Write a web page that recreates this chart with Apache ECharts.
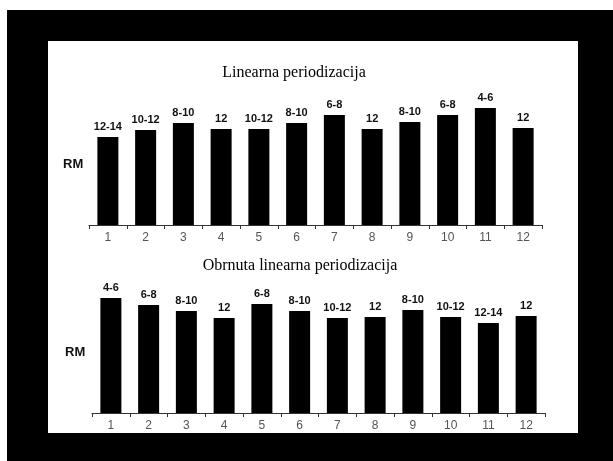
<!DOCTYPE html>
<html>
<head>
<meta charset="utf-8">
<script src="https://cdn.jsdelivr.net/npm/echarts@6/dist/echarts.min.js"></script>
<style>html,body{margin:0;padding:0;background:#fff;}#c{width:613px;height:461px;}</style>
</head>
<body>
<div id="c"></div>
<script>
var categories = ['1','2','3','4','5','6','7','8','9','10','11','12'];
var topTitle = 'Linearna periodizacija';
var bottomTitle = 'Obrnuta linearna periodizacija';
var topValues = [88, 95, 102, 96, 96, 102, 110, 96, 103, 110, 117, 97];
var topLabels = ['12-14','10-12','8-10','12','10-12','8-10','6-8','12','8-10','6-8','4-6','12'];
var bottomValues = [115, 108, 102, 95, 109, 102, 95, 96, 103, 96, 90, 97];
var bottomLabels = ['4-6','6-8','8-10','12','6-8','8-10','10-12','12','8-10','10-12','12-14','12'];
var yLabel = 'RM';

var chart = echarts.init(document.getElementById('c'), null, {renderer: 'canvas'});

function mkData(vals, labels) {
  return vals.map(function (v, i) { return {value: v, label: {formatter: labels[i]}}; });
}

var xAxisCommon = {
  type: 'category',
  data: categories,
  boundaryGap: true,
  axisLine: {lineStyle: {color: '#333', width: 1}},
  axisTick: {show: true, length: 4, lineStyle: {color: '#333'}},
  axisLabel: {color: '#555', fontSize: 12, fontFamily: 'Liberation Sans', margin: 7}
};
var yAxisCommon = {type: 'value', min: 0, max: 150, show: false, splitLine: {show: false}};
var seriesCommon = {
  type: 'bar',
  barWidth: 21,
  itemStyle: {color: '#000'},
  label: {show: true, position: 'top', distance: 5, color: '#111', fontSize: 11, fontWeight: 'bold', fontFamily: 'Liberation Sans'}
};

chart.setOption({
  backgroundColor: '#fff',
  animation: false,
  graphic: [
    {type: 'rect', z: -10, shape: {x: 7, y: 10, width: 606, height: 451}, style: {fill: '#000'}},
    {type: 'rect', z: -9, shape: {x: 48, y: 41, width: 530, height: 392}, style: {fill: '#fff'}},
    {type: 'text', x: 63, y: 164, style: {text: yLabel, font: 'bold 13px "Liberation Sans"', fill: '#111', verticalAlign: 'middle'}},
    {type: 'text', x: 65, y: 352, style: {text: yLabel, font: 'bold 13px "Liberation Sans"', fill: '#111', verticalAlign: 'middle'}},
    {type: 'text', x: 294, y: 73, style: {text: topTitle, font: '16px "Liberation Serif"', fill: '#000', align: 'center', verticalAlign: 'middle'}},
    {type: 'text', x: 300, y: 266, style: {text: bottomTitle, font: '16px "Liberation Serif"', fill: '#000', align: 'center', verticalAlign: 'middle'}}
  ],
  grid: [
    {left: 89, right: 71, top: 75, height: 150},
    {left: 92, right: 68, top: 263, height: 150}
  ],
  xAxis: [
    Object.assign({gridIndex: 0}, xAxisCommon),
    Object.assign({gridIndex: 1}, xAxisCommon)
  ],
  yAxis: [
    Object.assign({gridIndex: 0}, yAxisCommon),
    Object.assign({gridIndex: 1}, yAxisCommon)
  ],
  series: [
    Object.assign({xAxisIndex: 0, yAxisIndex: 0, data: mkData(topValues, topLabels)}, seriesCommon),
    Object.assign({xAxisIndex: 1, yAxisIndex: 1, data: mkData(bottomValues, bottomLabels)}, seriesCommon)
  ]
});
</script>
</body>
</html>
